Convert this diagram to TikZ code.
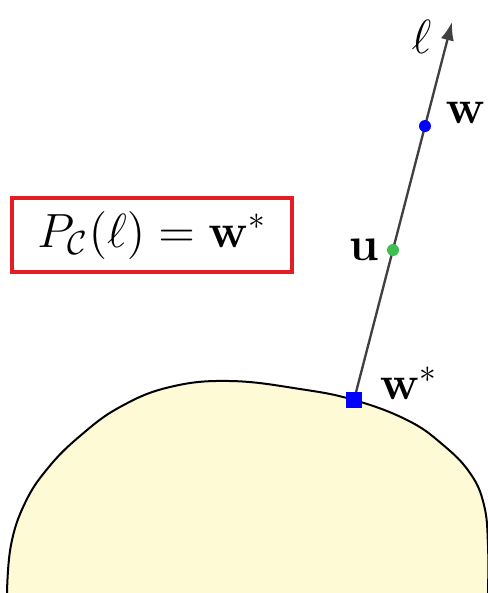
\documentclass[tikz,border=0pt]{standalone}
\usepackage{amssymb,amsmath}
\usepackage{tikz}
\usetikzlibrary{arrows.meta, positioning, backgrounds}
\definecolor{setfill}{RGB}{255,250,214}
\definecolor{boxred}{RGB}{228,28,36}
\definecolor{ugreen}{RGB}{60,190,80}

\begin{document}
\begin{tikzpicture}[x=0.3pt, y=-0.3pt, every node/.style={inner sep=0pt}, ptdot/.style={circle, minimum size=3.6pt}, lbl/.style={font=\fontsize{14}{16}\selectfont}]
    \useasboundingbox (0,0) rectangle (488,593);

    \node[fill=blue, minimum size=4.8pt] (wstar) at (354,400) {};
    \node[ptdot, fill=ugreen] (u) at (393,250) {};
    \node[ptdot, fill=blue] (w) at (425,126) {};
    \coordinate (tip) at (452,22);

    \node[lbl, right=4pt of w, yshift=4pt] {$\mathbf{w}$};
    \node[lbl, left=2pt of u] {$\mathbf{u}$};
    \node[lbl, right=5pt of wstar, yshift=5pt] {$\mathbf{w}^*$};
    \node[lbl, left=6pt of tip, yshift=-4.5pt] {$\ell$};

    \node[lbl, draw=boxred, line width=1.2pt, minimum width=84pt, minimum height=22pt] (proj) at (152,235) {$P_{\mathcal{C}}(\ell) = \mathbf{w}^*$};

    \begin{scope}[on background layer]
        \fill[setfill] plot[smooth, tension=0.7] coordinates {(7,593) (11,545) (25,503) (48,468) (80,436) (120,407) (170,387) (230,381) (300,389) (354,400) (407,420) (442,444) (470,473) (484,505) (488,545) (488,593)} -- cycle;
        \draw[line width=0.6pt] plot[smooth, tension=0.7] coordinates {(7,593) (11,545) (25,503) (48,468) (80,436) (120,407) (170,387) (230,381) (300,389) (354,400) (407,420) (442,444) (470,473) (484,505) (488,545) (488,593)};
        \draw[-{Latex[length=5.5pt, width=4pt]}, line width=0.7pt, black!75] (wstar.center) -- (tip);
    \end{scope}
\end{tikzpicture}
\end{document}
